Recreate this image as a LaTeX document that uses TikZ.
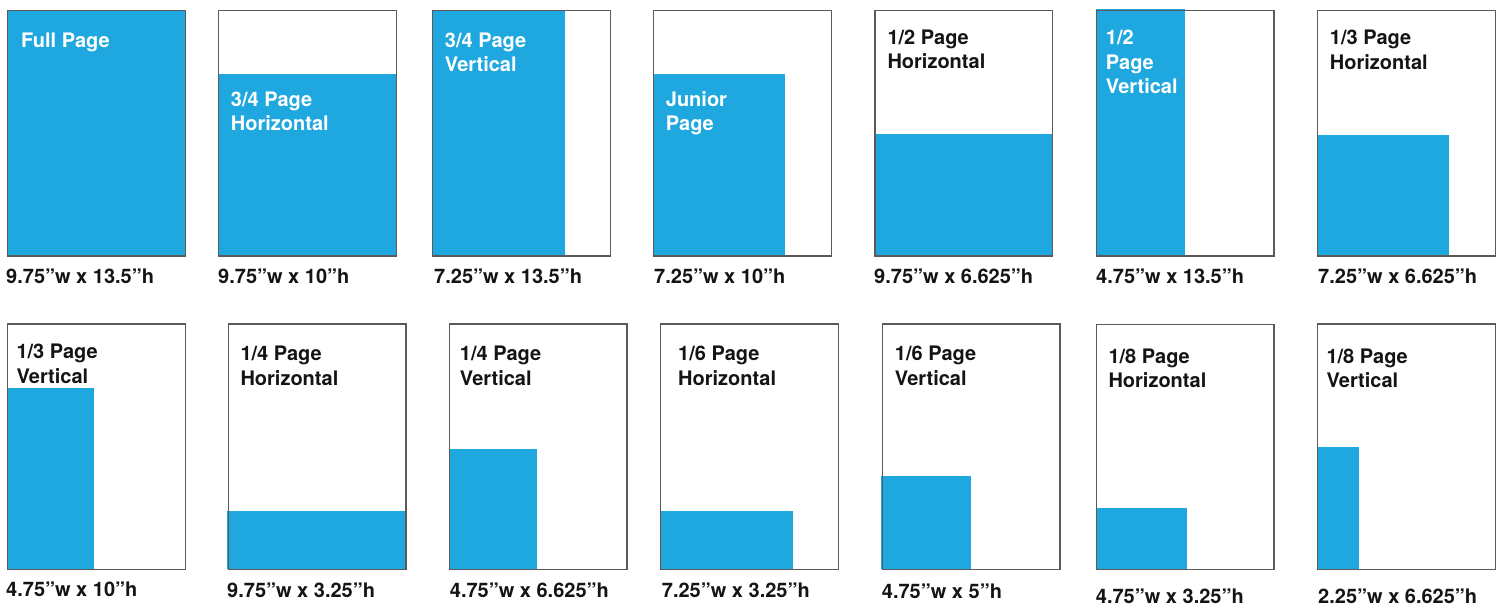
\documentclass[tikz,border=0pt]{standalone}
\usepackage{fontspec}
\setmainfont{TeX Gyre Heros}
\definecolor{adblue}{RGB}{31,168,224}
\definecolor{pageedge}{RGB}{94,89,86}
\definecolor{lbltext}{RGB}{20,20,20}

\begin{document}
\begin{tikzpicture}[
x=1pt, y=-1pt,
page/.style={draw=pageedge, line width=1.4pt},
ad/.style={fill=adblue},
every node/.style={inner sep=0pt, align=left, font=\bfseries\fontsize{20}{24.5}\selectfont},
lbl/.style={anchor=north west, text=lbltext},
onblue/.style={anchor=north west, text=white},
size/.style={anchor=base west, text=lbltext}
]
\useasboundingbox (0,0) rectangle (1501,606);

% Ads
\fill[ad] (7.3,10.7) rectangle (185.3,256);
\fill[ad] (218.7,74) rectangle (396.7,256);
\fill[ad] (432.7,10.7) rectangle (565,256);
\fill[ad] (653.3,74) rectangle (785,256);
\fill[ad] (875,134) rectangle (1052.7,256);
\fill[ad] (1096.3,9) rectangle (1185,256);
\fill[ad] (1317.7,135) rectangle (1449,256);
\fill[ad] (7.3,387.7) rectangle (94,569.3);
\fill[ad] (227,511) rectangle (406,569.3);
\fill[ad] (449.3,449) rectangle (536.7,569.3);
\fill[ad] (660.7,511) rectangle (792.7,569.3);
\fill[ad] (881,476) rectangle (971,569.3);
\fill[ad] (1096.3,508) rectangle (1187,569.7);
\fill[ad] (1317.7,447) rectangle (1359,569.7);

% Pages
\draw[page] (7.3,10.7) rectangle (185.3,256);
\draw[page] (218.7,10.7) rectangle (396.7,256);
\draw[page] (432.7,10.7) rectangle (610.7,256);
\draw[page] (653.3,10.7) rectangle (831.7,256);
\draw[page] (875,10.7) rectangle (1052.7,256);
\draw[page] (1096.3,10.7) rectangle (1274,256);
\draw[page] (1317.7,10.7) rectangle (1495.3,256);
\draw[page] (7.3,324) rectangle (185.3,569.3);
\draw[page] (228.7,324) rectangle (406,569.3);
\draw[page] (449.3,324) rectangle (627,569.3);
\draw[page] (660.7,324) rectangle (838.7,569.3);
\draw[page] (882.3,324) rectangle (1060,569.3);
\draw[page] (1096.3,324.3) rectangle (1274,569.7);
\draw[page] (1317.7,324) rectangle (1495.3,569.7);

% Labels
\node[onblue] (fullLbl) at (21,32.3) {Full Page};
\node[onblue] (threeqHLbl) at (230.7,91.7) {3/4 Page\\Horizontal};
\node[onblue] (threeqVLbl) at (444.7,32.3) {3/4 Page\\Vertical};
\node[onblue] (juniorLbl) at (665.7,91) {Junior\\Page};
\node[lbl] (halfHLbl) at (887.3,29.3) {1/2 Page\\Horizontal};
\node[onblue] (halfVLbl) at (1105.7,30) {1/2\\Page\\Vertical};
\node[lbl] (thirdHLbl) at (1329.7,30) {1/3 Page\\Horizontal};
\node[lbl] (thirdVLbl) at (16.3,344) {1/3 Page\\Vertical};
\node[lbl] (quarterHLbl) at (240.3,346) {1/4 Page\\Horizontal};
\node[lbl] (quarterVLbl) at (459.7,346) {1/4 Page\\Vertical};
\node[lbl] (sixthHLbl) at (678,346) {1/6 Page\\Horizontal};
\node[lbl] (sixthVLbl) at (894.7,346) {1/6 Page\\Vertical};
\node[lbl] (eighthHLbl) at (1108.3,348.3) {1/8 Page\\Horizontal};
\node[lbl] (eighthVLbl) at (1326.3,348.3) {1/8 Page\\Vertical};

% Sizes
\node[size] (fullSize) at (6,283) {9.75”w x 13.5”h};
\node[size] (threeqHSize) at (218,283) {9.75”w x 10”h};
\node[size] (threeqVSize) at (434,283) {7.25”w x 13.5”h};
\node[size] (juniorSize) at (654,283) {7.25”w x 10”h};
\node[size] (halfHSize) at (874,283) {9.75”w x 6.625”h};
\node[size] (halfVSize) at (1096,283) {4.75”w x 13.5”h};
\node[size] (thirdHSize) at (1318,283) {7.25”w x 6.625”h};
\node[size] (thirdVSize) at (6,596) {4.75”w x 10”h};
\node[size] (quarterHSize) at (227,597.5) {9.75”w x 3.25”h};
\node[size] (quarterVSize) at (449.7,597.5) {4.75”w x 6.625”h};
\node[size] (sixthHSize) at (661.7,597.5) {7.25”w x 3.25”h};
\node[size] (sixthVSize) at (881.7,598) {4.75”w x 5”h};
\node[size] (eighthHSize) at (1095.7,603.5) {4.75”w x 3.25”h};
\node[size] (eighthVSize) at (1318,603.5) {2.25”w x 6.625”h};
\end{tikzpicture}
\end{document}
